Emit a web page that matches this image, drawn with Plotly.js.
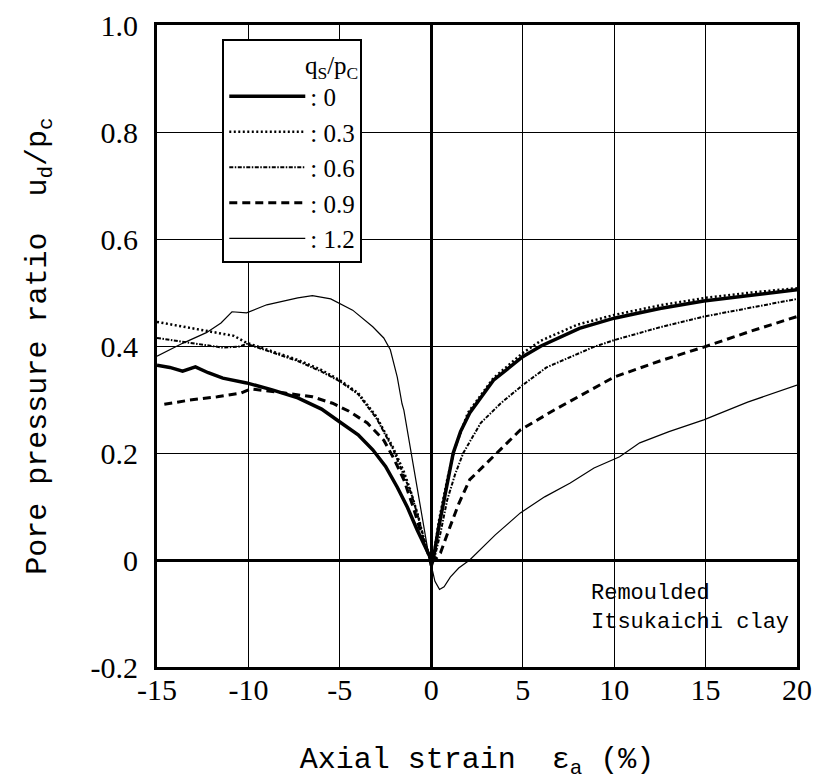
<!DOCTYPE html>
<html>
<head>
<meta charset="utf-8">
<script src="https://cdn.plot.ly/plotly-3.0.1.min.js"></script>
<style>html,body{margin:0;padding:0;background:#fff;}#chart{width:815px;height:780px;}</style>
</head>
<body>
<div id="chart"></div>
<script>
// q_s/p_c = 0 (thick solid)
const x_q00 = [-15, -14.3, -13.6, -12.9, -12.2, -11.4, -10.1, -8.7, -7.3, -6, -5, -4, -3.2, -2.5, -1.86, -1.3, -0.77, -0.4, -0.1, 0, 0.1, 0.4, 0.87, 1.2, 1.6, 2.1, 3.4, 5.0, 6.0, 8.1, 10, 12.5, 14.9, 17.5, 20];
const y_q00 = [0.364, 0.36, 0.353, 0.361, 0.35, 0.34, 0.331, 0.318, 0.303, 0.282, 0.258, 0.234, 0.206, 0.175, 0.136, 0.098, 0.056, 0.028, 0.008, -0.01, 0.0, 0.06, 0.144, 0.2, 0.24, 0.275, 0.336, 0.38, 0.40, 0.433, 0.452, 0.47, 0.484, 0.495, 0.505];
// q_s/p_c = 0.3 (dotted)
const x_q03 = [-15, -13.6, -11.7, -10.8, -10.1, -8.7, -7.3, -6, -5, -4, -3, -2.1, -1.5, -1.15, -0.7, -0.44, -0.15, 0, 0.1, 0.4, 0.9, 1.3, 2.0, 3.4, 5, 6, 8, 10, 12.5, 15, 17.5, 20];
const y_q03 = [0.445, 0.436, 0.425, 0.419, 0.406, 0.39, 0.374, 0.355, 0.336, 0.312, 0.268, 0.211, 0.165, 0.131, 0.08, 0.043, 0.01, 0, 0.0, 0.07, 0.155, 0.21, 0.275, 0.34, 0.387, 0.41, 0.44, 0.458, 0.476, 0.49, 0.5, 0.508];
// q_s/p_c = 0.6 (dash-dot)
const x_q06 = [-15, -13.6, -12.5, -11.4, -10.5, -10.1, -8.7, -7.3, -6, -5, -4, -3, -2.1, -1.5, -1.1, -0.7, -0.4, -0.1, 0, 0.15, 0.5, 0.87, 1.3, 1.75, 2.7, 3.8, 5, 6.3, 8.86, 10, 12.5, 14.9, 17.5, 20];
const y_q06 = [0.415, 0.408, 0.402, 0.397, 0.399, 0.404, 0.388, 0.372, 0.352, 0.334, 0.31, 0.265, 0.208, 0.16, 0.125, 0.078, 0.04, 0.008, 0, 0, 0.05, 0.112, 0.16, 0.2, 0.256, 0.293, 0.327, 0.36, 0.398, 0.411, 0.435, 0.455, 0.472, 0.488];
// q_s/p_c = 0.9 (dashed)
const x_q09 = [-14.6, -13.2, -11.7, -10.4, -10.0, -9.9, -8, -6.5, -5.4, -4.5, -3.5, -2.6, -2.1, -1.5, -1, -0.44, -0.1, 0, 0.2, 0.5, 1.0, 1.5, 2.1, 3.4, 4.87, 6.7, 8, 10, 12.5, 14.9, 17.5, 20];
const y_q09 = [0.291, 0.299, 0.305, 0.312, 0.318, 0.32, 0.312, 0.305, 0.293, 0.278, 0.256, 0.224, 0.193, 0.15, 0.1, 0.037, 0.005, 0, 0, 0.013, 0.06, 0.105, 0.15, 0.193, 0.243, 0.28, 0.305, 0.342, 0.372, 0.398, 0.428, 0.455];
// q_s/p_c = 1.2 (thin solid)
const x_q12 = [-15, -13.6, -12.3, -11.5, -10.9, -10.1, -9, -7.3, -6.5, -5.5, -4.3, -3.2, -2.6, -2.24, -1.86, -1.7, -1.6, -1.5, -1.25, -0.98, -0.7, -0.44, -0.16, 0, 0.2, 0.45, 0.7, 1.04, 1.5, 2.1, 3.5, 4.87, 6.2, 7.6, 8.9, 10.3, 11.4, 13, 14.9, 17.3, 20];
const y_q12 = [0.381, 0.405, 0.425, 0.443, 0.464, 0.462, 0.477, 0.49, 0.494, 0.488, 0.467, 0.436, 0.415, 0.393, 0.342, 0.31, 0.292, 0.28, 0.23, 0.181, 0.125, 0.075, 0.013, -0.01, -0.04, -0.055, -0.05, -0.032, -0.015, 0.0, 0.047, 0.088, 0.118, 0.144, 0.172, 0.193, 0.219, 0.24, 0.262, 0.295, 0.327];

const seriesNames = [': 0', ': 0.3', ': 0.6', ': 0.9', ': 1.2'];
const xTickVals = [-15, -10, -5, 0, 5, 10, 15, 20];
const xTickText = ['-15', '-10', '-5', '0', '5', '10', '15', '20'];
const yTickVals = [-0.2, 0, 0.2, 0.4, 0.6, 0.8, 1.0];
const yTickText = ['-0.2', '0', '0.2', '0.4', '0.6', '0.8', '1.0'];

const serif = '"Liberation Serif", serif';
const mono = '"Liberation Mono", monospace';

const traces = [
  {x: x_q00, y: y_q00, name: seriesNames[0], line: {color: '#000', width: 3.5}},
  {x: x_q03, y: y_q03, name: seriesNames[1], line: {color: '#000', width: 2.5, dash: '2px,2.5px'}},
  {x: x_q06, y: y_q06, name: seriesNames[2], line: {color: '#000', width: 2, dash: '4px,1.5px,1.5px,1.5px'}},
  {x: x_q09, y: y_q09, name: seriesNames[3], line: {color: '#000', width: 3, dash: '8px,5px'}},
  {x: x_q12, y: y_q12, name: seriesNames[4], line: {color: '#000', width: 1.2}}
].map(t => Object.assign({type: 'scatter', mode: 'lines'}, t));

const layout = {
  width: 815, height: 780,
  margin: {l: 157, r: 18, t: 25, b: 113},
  paper_bgcolor: '#fff', plot_bgcolor: '#fff',
  showlegend: true,
  legend: {
    x: 0.102, y: 0.978, xanchor: 'left', yanchor: 'top',
    bgcolor: '#fff', bordercolor: '#000', borderwidth: 2,
    font: {family: serif, size: 25, color: '#000'},
    itemwidth: 76, tracegroupgap: 0,
    title: {text: 'q<sub>S</sub>/p<sub>C</sub>', side: 'top right', font: {family: serif, size: 25, color: '#000'}}
  },
  xaxis: {
    range: [-15, 20], tickmode: 'array', tickvals: xTickVals, ticktext: xTickText,
    showgrid: true, gridcolor: '#000', gridwidth: 1,
    zeroline: true, zerolinecolor: '#000', zerolinewidth: 3,
    showline: true, linecolor: '#000', linewidth: 3, mirror: true,
    ticks: '', tickfont: {family: serif, size: 30, color: '#000'}, ticklabelstandoff: -6,
    title: {text: 'Axial strain\u00a0\u00a0ε<sub>a</sub> (%)', font: {family: mono, size: 30, color: '#000'}, standoff: 44}
  },
  yaxis: {
    range: [-0.2, 1.0], tickmode: 'array', tickvals: yTickVals, ticktext: yTickText,
    showgrid: true, gridcolor: '#000', gridwidth: 1,
    zeroline: true, zerolinecolor: '#000', zerolinewidth: 3,
    showline: true, linecolor: '#000', linewidth: 3, mirror: true,
    ticks: '', tickfont: {family: serif, size: 30, color: '#000'}, ticklabelstandoff: 10,
    title: {text: 'Pore pressure ratio\u00a0\u00a0u<sub>d</sub>/p<sub>c</sub>', font: {family: mono, size: 30, color: '#000'}, standoff: 36}
  },
  annotations: [{
    xref: 'x', yref: 'y', x: 8.6, y: -0.09, xanchor: 'left', yanchor: 'middle', align: 'left',
    text: 'Remoulded<br>Itsukaichi clay', showarrow: false,
    font: {family: mono, size: 22, color: '#000'}
  }]
};

Plotly.newPlot('chart', traces, layout, {displayModeBar: false, staticPlot: true});
</script>
</body>
</html>
